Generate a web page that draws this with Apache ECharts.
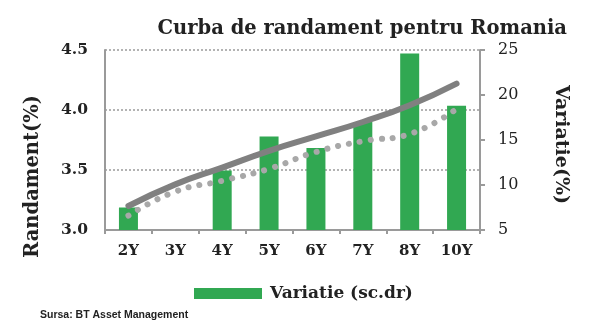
<!DOCTYPE html>
<html>
<head>
<meta charset="utf-8">
<script src="https://cdn.jsdelivr.net/npm/echarts@6/dist/echarts.min.js"></script>
<style>html,body{margin:0;padding:0;background:#fff}#c{width:600px;height:332px}</style>
</head>
<body>
<div id="c"></div>
<script>
var categories = ['2Y', '3Y', '4Y', '5Y', '6Y', '7Y', '8Y', '10Y'];
var variatie = [7.5, '-', 11.6, 15.4, 14.1, 17.0, 24.6, 18.8];
var curbaSolid = [3.20, 3.38, 3.52, 3.66, 3.78, 3.90, 4.04, 4.22];
var curbaDotted = [3.12, 3.32, 3.41, 3.51, 3.65, 3.74, 3.80, 4.01];
var leftTicks = { min: 3, max: 4.5, interval: 0.5 };
var rightTicks = { min: 5, max: 25, interval: 5 };

var serif = 'DejaVu Serif';
var chart = echarts.init(document.getElementById('c'), null, { renderer: 'canvas' });
chart.setOption({
  animation: false,
  backgroundColor: '#fff',
  title: [
    { text: 'Curba de randament pentru Romania', right: 28, top: 14,
      textStyle: { fontFamily: serif, fontWeight: 'bold', fontSize: 19.5, color: '#222' } },
    { text: 'Sursa: BT Asset Management', left: 35, top: 305,
      textStyle: { fontFamily: 'Liberation Sans', fontWeight: 'bold', fontSize: 10.5, color: '#222' } }
  ],
  legend: {
    data: ['Variatie (sc.dr)'], left: 189, top: 280, icon: 'rect',
    itemWidth: 68, itemHeight: 11,
    textStyle: { fontFamily: serif, fontWeight: 'bold', fontSize: 17, color: '#222', padding: [0, 0, 0, 3] }
  },
  grid: { left: 105, right: 120, top: 50, bottom: 102 },
  xAxis: {
    type: 'category', data: categories,
    axisLine: { lineStyle: { color: '#9a9a9a', width: 2 } },
    axisTick: { show: true, length: 4, lineStyle: { color: '#9a9a9a', width: 2 } },
    axisLabel: { fontFamily: serif, fontWeight: 'bold', fontSize: 15, color: '#222', margin: 14 }
  },
  yAxis: [
    { type: 'value', min: leftTicks.min, max: leftTicks.max, interval: leftTicks.interval,
      axisLine: { show: true, lineStyle: { color: '#9a9a9a', width: 2 } },
      axisTick: { show: false },
      axisLabel: { fontFamily: serif, fontWeight: 'bold', fontSize: 15.5, color: '#222', margin: 17,
        formatter: function (v) { return v.toFixed(1); } },
      splitLine: { show: true, lineStyle: { color: '#9a9a9a', type: [2, 2], width: 1.5 } } },
    { type: 'value', min: rightTicks.min, max: rightTicks.max, interval: rightTicks.interval,
      axisLine: { show: true, lineStyle: { color: '#9a9a9a', width: 2 } },
      axisTick: { show: true, length: 5, lineStyle: { color: '#9a9a9a', width: 2 } },
      axisLabel: { fontFamily: serif, fontSize: 16, color: '#222', margin: 18 },
      splitLine: { show: false } }
  ],
  graphic: [
    { type: 'text', left: 23, top: 95, rotation: Math.PI / 2,
      style: { text: 'Randament(%)', font: 'bold 19.5px "DejaVu Serif"', fill: '#222' } },
    { type: 'text', left: 551, top: 85, rotation: -Math.PI / 2,
      style: { text: 'Variatie(%)', font: 'bold 19px "DejaVu Serif"', fill: '#222' } }
  ],
  series: [
    { name: 'Variatie (sc.dr)', type: 'bar', yAxisIndex: 1, data: variatie, barWidth: 19,
      itemStyle: { color: '#31a852' }, z: 1 },
    { name: 'Randament', type: 'line', yAxisIndex: 0, data: curbaSolid, smooth: true,
      symbol: 'none', lineStyle: { color: '#808080', width: 6, cap: 'round' }, z: 3 },
    { name: 'Randament2', type: 'line', yAxisIndex: 0, data: curbaDotted, smooth: true,
      symbol: 'none', lineStyle: { color: '#a8a8a8', width: 6, type: [0.1, 11], cap: 'round' }, z: 2 }
  ]
});
</script>
</body>
</html>
